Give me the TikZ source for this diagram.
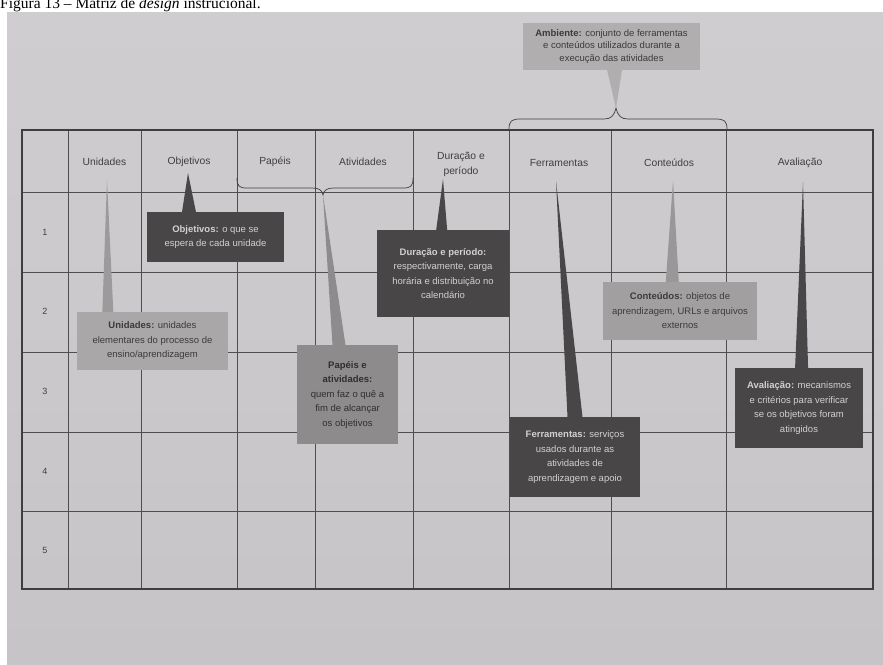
\documentclass[tikz,border=0pt]{standalone}
\usepackage{fontspec}
\setmainfont{Liberation Sans}
\newfontfamily\capfont{Liberation Serif}
\usetikzlibrary{calc}

\definecolor{paper}{HTML}{C6C4C6}
\definecolor{paperlt}{HTML}{CFCDCF}
\definecolor{ink}{HTML}{403E3F}
\definecolor{rule}{HTML}{4F4D4E}
\definecolor{dkbox}{HTML}{484647}
\definecolor{dktext}{HTML}{D2D0D1}
\definecolor{ltbox}{HTML}{A9A7A8}
\definecolor{cobox}{HTML}{A19FA0}
\definecolor{ambox}{HTML}{B0AEAF}
\definecolor{mdbox}{HTML}{8E8B8C}
\definecolor{lttext}{HTML}{3C3A3B}

\pgfdeclarelayer{bg}
\pgfdeclarelayer{mid}
\pgfsetlayers{bg,mid,main}

% wedge from an apex point to the top edge of a callout box
\newcommand\wedgeto[5]{%
  \fill[#5] (#1) -- ($(#2.north west)!#3!(#2.north east)+(-#4,0.3)$)
    -- ($(#2.north west)!#3!(#2.north east)+(#4,0.3)$) -- cycle;}

\tikzset{
  hdr/.style={text=ink, font=\fontsize{10.3}{14}\selectfont, align=center, inner sep=0pt},
  rownum/.style={text=ink, font=\fontsize{9}{11}\selectfont, inner sep=0pt},
  grid/.style={draw=rule, line width=0.7pt},
  frame/.style={draw=rule!80!black, line width=1.2pt},
  brace/.style={draw=ink, line width=0.7pt},
  callout/.style={align=center, inner sep=2pt, font=\fontsize{9.5}{14.5}\selectfont},
  darkcall/.style={callout, fill=dkbox, text=dktext},
  lightcall/.style={callout, fill=ltbox, text=lttext},
}

\begin{document}
\begin{tikzpicture}[x=1pt,y=-1pt]
\useasboundingbox (0,0) rectangle (883,664);
\clip (0,0) rectangle (883,664);

\begin{pgfonlayer}{bg}
  % page and caption strip
  \fill[white] (0,0) rectangle (883,664);
  \node[anchor=base west, inner sep=0pt, font=\capfont\fontsize{15.5}{18}\selectfont] (cap) at (0,8)
    {Figura 13 – Matriz de \textit{design} instrucional.};
  \shade[top color=paperlt, bottom color=paper] (7,12) rectangle (883,664);

  % table grid
  \foreach \x in {68,141,237,315,413,509,611,726}
    \draw[grid] (\x,130) -- (\x,589);
  \foreach \y in {192,272,352,432,511}
    \draw[grid] (22,\y) -- (873,\y);
  \draw[frame] (22,130) rectangle (873,589);

  % braces
  \coordinate (pbL) at (237,178);
  \coordinate (pbR) at (413,178);
  \coordinate (pbTip) at (323,195);
  \draw[brace] (pbL) .. controls (237,186) and (239,188) .. (247,188) -- (312,188)
    .. controls (319,188) and (322,190) .. (pbTip)
    .. controls (324,190) and (327,188) .. (334,188) -- (403,188)
    .. controls (411,188) and (413,186) .. (pbR);

  \coordinate (abL) at (509,130);
  \coordinate (abR) at (727,130);
  \coordinate (abTip) at (616,108);
  \draw[brace] (abL) .. controls (509,121) and (511,119) .. (521,119) -- (604,119)
    .. controls (611,119) and (614,116) .. (abTip)
    .. controls (618,116) and (621,119) .. (628,119) -- (715,119)
    .. controls (725,119) and (727,121) .. (abR);
\end{pgfonlayer}

% column headers
\node[hdr] (hUni) at (104.5,162) {Unidades};
\node[hdr] (hObj) at (189,162) {Objetivos};
\node[hdr] (hPap) at (275,162) {Papéis};
\node[hdr] (hAti) at (363,162) {Atividades};
\node[hdr, font=\fontsize{10.3}{15}\selectfont] (hDur) at (461,164) {Duração e\\período};
\node[hdr] (hFer) at (559,163) {Ferramentas};
\node[hdr] (hCon) at (669,163) {Conteúdos};
\node[hdr] (hAva) at (800,163) {Avaliação};

% row numbers
\node[rownum] (r1) at (45,232) {1};
\node[rownum] (r2) at (45,311) {2};
\node[rownum] (r3) at (45,391) {3};
\node[rownum] (r4) at (45,471) {4};
\node[rownum] (r5) at (45,550) {5};

% callout boxes
\node[lightcall, fill=ambox, minimum width=177, minimum height=47,
      font=\fontsize{9.5}{12.5}\selectfont] (amb) at (611.5,46.5)
  {\textbf{Ambiente:} conjunto de ferramentas\\e conteúdos utilizados durante a\\execução das atividades};
\node[lightcall, minimum width=151, minimum height=58] (uni) at (152.5,341)
  {\textbf{Unidades:} unidades\\elementares do processo de\\ensino/aprendizagem};
\node[darkcall, minimum width=137, minimum height=50] (obj) at (215.5,237)
  {\textbf{Objetivos:} o que se\\espera de cada unidade};
\node[darkcall, minimum width=132, minimum height=87] (dur) at (443,273.5)
  {\textbf{Duração e período:}\\respectivamente, carga\\horária e distribuição no\\calendário};
\node[lightcall, fill=mdbox, text=lttext!80!black, minimum width=101, minimum height=99] (pap) at (347.5,394.5)
  {\textbf{Papéis e}\\\textbf{atividades:}\\quem faz o quê a\\fim de alcançar\\os objetivos};
\node[lightcall, fill=cobox, minimum width=154, minimum height=58] (con) at (680,311)
  {\textbf{Conteúdos:} objetos de\\aprendizagem, URLs e arquivos\\externos};
\node[darkcall, minimum width=128, minimum height=80] (ava) at (799,408)
  {\textbf{Avaliação:} mecanismos\\e critérios para verificar\\se os objetivos foram\\atingidos};
\node[darkcall, minimum width=130, minimum height=80] (fer) at (575,457)
  {\textbf{Ferramentas:} serviços\\usados durante as\\atividades de\\aprendizagem e apoio};

% pointer apexes
\coordinate (uniTip) at (107,180);
\coordinate (objTip) at (188,173);
\coordinate (durTip) at (443,179);
\coordinate (conTip) at (673,181);
\coordinate (avaTip) at (803,182);
\coordinate (ferTip) at (556,181);

\begin{pgfonlayer}{mid}
  \wedgeto{uniTip}{uni}{0.205}{5.5}{ltbox!92!black}
  \wedgeto{objTip}{obj}{0.307}{7}{dkbox}
  \wedgeto{durTip}{dur}{0.49}{5.5}{dkbox}
  \wedgeto{pbTip}{pap}{0.416}{6.5}{mdbox}
  \wedgeto{conTip}{con}{0.45}{6.5}{cobox!95!black}
  \wedgeto{avaTip}{ava}{0.52}{6.5}{dkbox}
  \wedgeto{ferTip}{fer}{0.50}{7.5}{dkbox}
  \fill[ambox] (abTip) -- ($(amb.south west)!0.517!(amb.south east)+(-7.5,-0.3)$)
    -- ($(amb.south west)!0.517!(amb.south east)+(7.5,-0.3)$) -- cycle;
\end{pgfonlayer}
\end{tikzpicture}
\end{document}
